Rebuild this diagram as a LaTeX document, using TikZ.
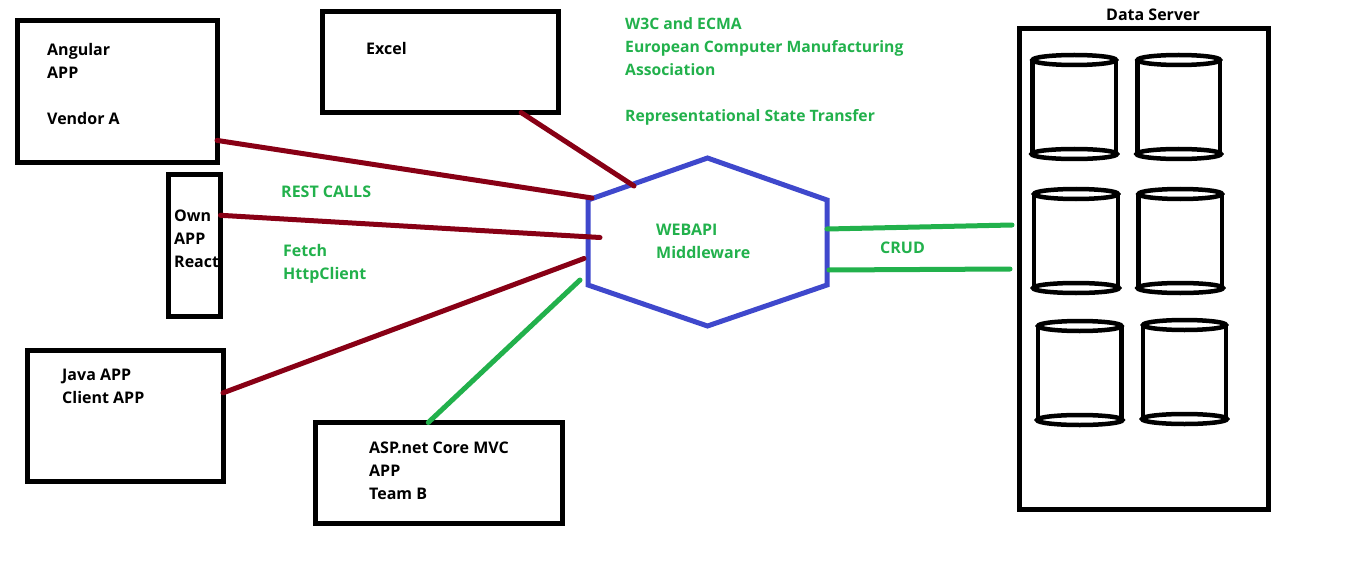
\documentclass[tikz,border=0pt]{standalone}
\usepackage{fontspec}
\setmainfont{Open Sans}
\usepackage{tikz}
\usetikzlibrary{positioning,calc}
\definecolor{linkred}{HTML}{880015}
\definecolor{linkgreen}{HTML}{22B14C}
\definecolor{hexblue}{HTML}{3F48CC}
\tikzset{
	appbox/.style={draw=black,line width=5pt,inner sep=0pt,outer sep=0pt,anchor=north west},
	boxtxt/.style={anchor=north west,inner sep=0pt,align=left,font=\fontsize{16pt}{23pt}\selectfont\bfseries,text=black},
	greentxt/.style={boxtxt,text=linkgreen},
	redlink/.style={draw=linkred,line width=5pt,line cap=round},
	greenlink/.style={draw=linkgreen,line width=5pt,line cap=round},
	dbcyl/.style={draw=black,line width=4.5pt}
}
\begin{document}
\begin{tikzpicture}[x=1pt,y=-1pt]
	\useasboundingbox (0,0) rectangle (1356,572);
	% client boxes
	\node(angular) [appbox,minimum width=199.5pt,minimum height=142.5pt] at (17.5,20.5) {};
	\node(excel) [appbox,minimum width=235.5pt,minimum height=101pt] at (322.5,11.5) {};
	\node(own) [appbox,minimum width=52.5pt,minimum height=142pt] at (168,174.5) {};
	\node(java) [appbox,minimum width=196pt,minimum height=131pt] at (27,350) {};
	\node(asp) [appbox,minimum width=247pt,minimum height=101pt] at (315.5,422.5) {};
	\node(server) [appbox,minimum width=248.5pt,minimum height=480.5pt] at (1019.5,28.5) {};
	% middleware
	\coordinate (hn) at (707.5,158);
	\coordinate (hne) at (827,200);
	\coordinate (hse) at (827,285);
	\coordinate (hs) at (707.5,326);
	\coordinate (hsw) at (588,285);
	\coordinate (hnw) at (588,200);
	\draw[hexblue,line width=5pt,line join=miter] (hn) -- (hne) -- (hse) -- (hs) -- (hsw) -- (hnw) -- cycle;
	% free ends on the hexagon and the server
	\coordinate (inA) at (592,198);
	\coordinate (inE) at (634,186);
	\coordinate (inO) at (600,237.5);
	\coordinate (inJ) at (584,258.5);
	\coordinate (inM) at (580,280);
	\coordinate (crudA) at (827,229);
	\coordinate (crudB) at (829,270);
	\coordinate (dbA) at (1012,225);
	\coordinate (dbB) at (1010,269);
	\draw[redlink] (angular.-26.8) -- (inA);
	\draw[redlink] (excel.-32.3) -- (inE);
	\draw[redlink] (own.49) -- (inO);
	\draw[redlink] (java.13.5) -- (inJ);
	\draw[greenlink] (asp.102.3) -- (inM);
	\draw[greenlink] (crudA) -- (dbA);
	\draw[greenlink] (crudB) -- (dbB);
	% disks
	\foreach \lx/\rx/\ty/\by in {1032.5/1116/60/154,1137.5/1220/60/154,1034/1118/194/288,1138.5/1222/194/288,1038/1121.5/326/420,1143/1226/325/419}{
		\draw[dbcyl] (\lx,\ty) -- (\lx,\by) (\rx,\ty) -- (\rx,\by);
		\draw[dbcyl] ({(\lx+\rx)/2},\ty) ellipse [x radius={(\rx-\lx)/2},y radius=5];
		\draw[dbcyl] ({(\lx+\rx)/2},\by) ellipse [x radius={(\rx-\lx)/2+1},y radius=5];
	}
	% labels
	\node(angulartxt) [boxtxt] at (47,43) {Angular\\APP\\[23pt]Vendor A};
	\node(exceltxt) [boxtxt] at (366,42) {Excel};
	\node(owntxt) [boxtxt] at (174,210) {Own\\APP\\React};
	\node(javatxt) [boxtxt] at (62,369) {Java APP\\Client APP};
	\node(asptxt) [boxtxt] at (369,442) {ASP.net Core MVC\\APP\\Team B};
	\node(servertxt) [boxtxt] at (1106,9) {Data Server};
	\node(stdtxt) [greentxt,font=\fontsize{15.7pt}{23pt}\selectfont\bfseries] at (625,17) {W3C and ECMA\\European Computer Manufacturing\\Association\\[23pt]Representational State Transfer};
	\node(resttxt) [greentxt] at (281,186) {REST CALLS};
	\node(fetchtxt) [greentxt] at (283,244) {Fetch\\HttpClient};
	\node(webapitxt) [greentxt] at (656,224) {WEBAPI\\Middleware};
	\node(crudtxt) [greentxt] at (880,242) {CRUD};
\end{tikzpicture}
\end{document}
